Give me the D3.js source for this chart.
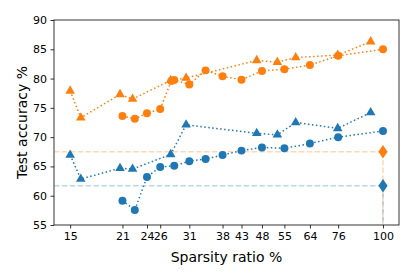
<!DOCTYPE html>
<html>
<head>
<meta charset="utf-8">
<script src="https://cdn.jsdelivr.net/npm/d3@7"></script>
<style>
  body { margin: 0; background: #fff; }
  text { font-family: "DejaVu Sans", sans-serif; fill: #000; }
</style>
</head>
<body>
<div id="chart"></div>
<script>
// x tick positions (sparsity ratio) and their printed labels
const tickVals = [15, 20.6, 23.9, 25.9, 30.9, 37.8, 42.4, 48, 55, 64.2, 76.2, 100];
const tickLabels = ["15", "21", "24", "26", "31", "38", "43", "48", "55", "64", "76", "100"];
const yTicks = [55, 60, 65, 70, 75, 80, 85, 90];

// circle series (same sparsity for both colours)
const circX_orange = [20.6, 22.2, 23.9, 25.9, 27.7, 28.2, 30.9, 34.1, 37.8, 42.4, 48, 55, 64.2, 76.2, 100];
const circY_orange = [73.6, 73.15, 74.07, 74.8, 79.6, 79.75, 79.0, 81.4, 80.4, 79.8, 81.3, 81.6, 82.3, 83.9, 85.0];
const circX_blue = [20.6, 22.2, 23.9, 25.9, 28.2, 30.9, 34.1, 37.8, 42.4, 48, 55, 64.2, 76.2, 100];
const circY_blue = [59.15, 57.55, 63.2, 64.9, 65.1, 65.9, 66.25, 66.95, 67.7, 68.25, 68.1, 68.9, 70.0, 71.05];

// triangle series
const triX = [15, 16, 20.3, 21.9, 27.6, 30.3, 46.5, 52.7, 58.9, 76.0, 92.8];
const triY_orange = [77.9, 73.3, 77.3, 76.5, 79.7, 80.1, 83.1, 82.8, 83.6, 84.0, 86.3];
const triY_blue = [66.95, 62.85, 64.7, 64.55, 67.05, 72.1, 70.65, 70.4, 72.5, 71.5, 74.2];

// dense reference (diamond at 100%)
const denseX = 100;
const dense_orange = 67.5;
const dense_blue = 61.7;

const BLUE = "#1f77b4", ORANGE = "#ff7f0e";

const W = 415, H = 277;
const margin = { top: 20, right: 16, bottom: 52, left: 54 };
const width = W - margin.left - margin.right,
  height = H - margin.top - margin.bottom;

const svg = d3.select("#chart").append("svg")
  .attr("width", W).attr("height", H)
  .append("g")
  .attr("transform", "translate(" + margin.left + "," + margin.top + ")");

const x = d3.scaleLog().domain([13.6, 110.2]).range([0, width]);
const y = d3.scaleLinear().domain([55, 90]).range([height, 0]);

// Axes
const xAxis = svg.append("g")
  .attr("transform", "translate(0," + height + ")")
  .call(d3.axisBottom(x).tickValues(tickVals)
    .tickFormat((d, i) => tickLabels[i]).tickSize(3.5).tickPadding(3.5));
const yAxis = svg.append("g")
  .call(d3.axisLeft(y).tickValues(yTicks).tickSize(3.5).tickPadding(3.5));
[xAxis, yAxis].forEach(a => {
  a.select(".domain").remove();
  a.selectAll("text").style("font-size", "11px").attr("fill", "#000");
  a.selectAll("line").attr("stroke", "#000").attr("stroke-width", 0.8);
});

// Frame
svg.append("rect")
  .attr("width", width).attr("height", height)
  .attr("fill", "none").attr("stroke", "#000").attr("stroke-width", 0.8);

// Reference dashed lines for dense model
[[dense_orange, ORANGE], [dense_blue, BLUE]].forEach(([v, c]) => {
  svg.append("line")
    .attr("x1", 0).attr("x2", x(denseX))
    .attr("y1", y(v)).attr("y2", y(v))
    .attr("stroke", c).attr("stroke-opacity", 0.3).attr("stroke-width", 1.5)
    .attr("stroke-dasharray", "5.5,2.4");
  svg.append("line")
    .attr("x1", x(denseX)).attr("x2", x(denseX))
    .attr("y1", y(v)).attr("y2", height)
    .attr("stroke", c).attr("stroke-opacity", 0.3).attr("stroke-width", 1.5)
    .attr("stroke-dasharray", "5.5,2.4");
});

const line = d3.line().x(d => x(d[0])).y(d => y(d[1]));

function series(xs, ys, color, shape) {
  const pts = xs.map((v, i) => [v, ys[i]]);
  svg.append("path")
    .datum(pts)
    .attr("d", line)
    .attr("fill", "none")
    .attr("stroke", color)
    .attr("stroke-width", 1.5)
    .attr("stroke-dasharray", "1.5,2.5");
  const sym = d3.symbol().type(shape).size(shape === d3.symbolCircle ? 50 : 40);
  svg.selectAll(null)
    .data(pts)
    .enter()
    .append("path")
    .attr("d", sym)
    .attr("transform", d => "translate(" + x(d[0]) + "," + y(d[1]) + ")")
    .attr("fill", color);
}

series(circX_blue, circY_blue, BLUE, d3.symbolCircle);
series(triX, triY_blue, BLUE, d3.symbolTriangle);
series(circX_orange, circY_orange, ORANGE, d3.symbolCircle);
series(triX, triY_orange, ORANGE, d3.symbolTriangle);

// thin diamonds
[[dense_orange, ORANGE], [dense_blue, BLUE]].forEach(([v, c]) => {
  svg.append("path")
    .attr("d", "M0,-6.8L4.6,0L0,6.8L-4.6,0Z")
    .attr("transform", "translate(" + x(denseX) + "," + y(v) + ")")
    .attr("fill", c);
});

// Labels
svg.append("text")
  .attr("x", width / 2)
  .attr("y", height + 37)
  .style("text-anchor", "middle")
  .style("font-size", "14px")
  .text("Sparsity ratio %");

svg.append("text")
  .attr("transform", "rotate(-90)")
  .attr("x", -height / 2)
  .attr("y", -27)
  .style("text-anchor", "middle")
  .style("font-size", "14px")
  .text("Test accuracy %");
</script>
</body>
</html>
